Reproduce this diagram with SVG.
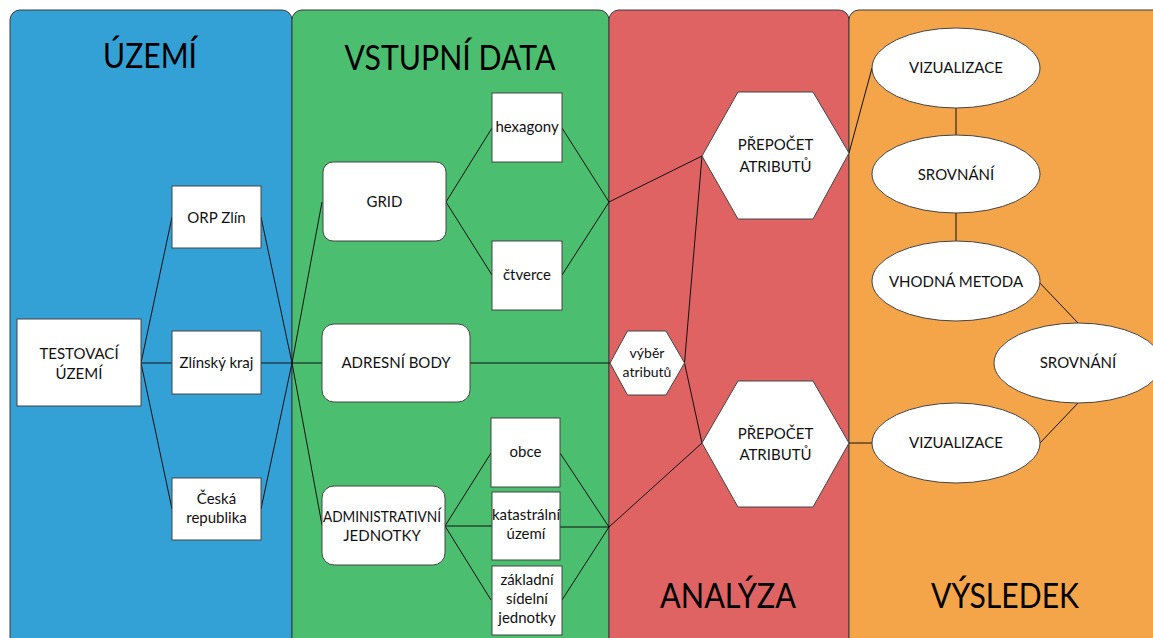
<svg xmlns="http://www.w3.org/2000/svg" width="1153" height="638" viewBox="0 0 1153 638">
<style>
.panel{stroke:#3a3a3a;stroke-width:1}
.box{fill:#fff;stroke:#444;stroke-width:1}
.t{font-family:Lato,"Liberation Sans",sans-serif;font-size:15px;fill:#111;text-anchor:middle}
.s{font-size:14px}
.title{font-family:Lato,"Liberation Sans",sans-serif;font-size:35px;fill:#000;text-anchor:middle}
.c{stroke:#111;stroke-width:1;fill:none}
</style>
<rect width="1153" height="638" fill="#fff"/>
<g id="panels">
<rect class="panel" x="10" y="10" width="282" height="700" rx="10" fill="#34a1d6"/>
<rect class="panel" x="292" y="10" width="317" height="700" rx="10" fill="#4bbf6f"/>
<rect class="panel" x="609" y="10" width="240" height="700" rx="10" fill="#df6363"/>
<rect class="panel" x="849" y="10" width="320" height="700" rx="10" fill="#f4a54a"/>
<text class="title" x="150" y="68" textLength="94" lengthAdjust="spacingAndGlyphs">ÚZEMÍ</text>
<text class="title" x="450" y="70" textLength="211" lengthAdjust="spacingAndGlyphs">VSTUPNÍ DATA</text>
<text class="title" x="728" y="608" textLength="136" lengthAdjust="spacingAndGlyphs">ANALÝZA</text>
<text class="title" x="1005" y="608" textLength="148" lengthAdjust="spacingAndGlyphs">VÝSLEDEK</text>
</g>
<g id="connectors" class="c">
<polyline points="172,217 141,363 172,509"/>
<line x1="141" y1="363" x2="172" y2="363"/>
<polyline points="261,217 292,363 261,509"/>
<line x1="261" y1="363" x2="322" y2="363"/>
<polyline points="322,202 292,363 322,525"/>
<polyline points="492,128 446,202 492,275"/>
<polyline points="562,128 609,202 562,275"/>
<line x1="609" y1="202" x2="702" y2="156"/>
<line x1="470" y1="363" x2="610" y2="363"/>
<polyline points="491,453 445,526 491,600"/>
<line x1="445" y1="526" x2="492" y2="526"/>
<polyline points="560,453 609,527 562,600"/>
<line x1="560" y1="527" x2="609" y2="527"/>
<line x1="609" y1="527" x2="702" y2="443"/>
<polyline points="702,156 684.5,363 702,443"/>
<line x1="849" y1="153" x2="872" y2="68"/>
<line x1="849" y1="443" x2="872" y2="443"/>
<line x1="956" y1="108" x2="956" y2="135"/>
<line x1="956" y1="213" x2="956" y2="242"/>
<line x1="1039" y1="282" x2="1078" y2="323"/>
<line x1="1078" y1="403" x2="1040" y2="443"/>
</g>
<g id="testovaci"><rect class="box" x="17" y="319" width="124" height="87"/><text class="t"><tspan x="79" y="359">TESTOVACÍ</tspan><tspan x="79" y="379">ÚZEMÍ</tspan></text></g>
<g id="orp"><rect class="box" x="172" y="186" width="89" height="62"/><text class="t" x="216.5" y="223">ORP Zlín</text></g>
<g id="kraj"><rect class="box" x="172" y="331" width="89" height="63"/><text class="t" x="216.5" y="368">Zlínský kraj</text></g>
<g id="cr"><rect class="box" x="172" y="478" width="89" height="62"/><text class="t"><tspan x="216.5" y="504">Česká</tspan><tspan x="216.5" y="523">republika</tspan></text></g>
<g id="grid"><rect class="box" x="323" y="162" width="123" height="79" rx="10"/><text class="t" x="384.5" y="207">GRID</text></g>
<g id="hexagony"><rect class="box" x="492" y="93" width="70" height="69"/><text class="t" x="527" y="132">hexagony</text></g>
<g id="ctverce"><rect class="box" x="492" y="241" width="70" height="69"/><text class="t" x="527" y="280">čtverce</text></g>
<g id="adresni"><rect class="box" x="322" y="324" width="148" height="78" rx="12"/><text class="t" x="396" y="368">ADRESNÍ BODY</text></g>
<g id="admin"><rect class="box" x="322" y="486" width="123" height="79" rx="12"/><text class="t"><tspan x="382" y="522" textLength="118" lengthAdjust="spacingAndGlyphs">ADMINISTRATIVNÍ</tspan><tspan x="382" y="541">JEDNOTKY</tspan></text></g>
<g id="obce"><rect class="box" x="491" y="418" width="69" height="69"/><text class="t" x="525.5" y="457">obce</text></g>
<g id="katastralni"><rect class="box" x="492" y="492" width="68" height="68"/><text class="t"><tspan x="526" y="520">katastrální</tspan><tspan x="526" y="539">území</tspan></text></g>
<g id="zsj"><rect class="box" x="492" y="566" width="70" height="69"/><text class="t"><tspan x="527" y="585">základní</tspan><tspan x="527" y="604">sídelní</tspan><tspan x="527" y="623">jednotky</tspan></text></g>
<g id="vyber"><polygon class="box" points="610,363 627.5,331 666,331 684.5,363 666,395 627.5,395"/><text class="t s"><tspan x="647" y="358">výběr</tspan><tspan x="647" y="377">atributů</tspan></text></g>
<g id="prepocet1"><polygon class="box" points="702,156 738,92 813,92 849,153 813,219 738,219"/><text class="t"><tspan x="775.5" y="150">PŘEPOČET</tspan><tspan x="775.5" y="172">ATRIBUTŮ</tspan></text></g>
<g id="prepocet2"><polygon class="box" points="702,443 738,381 813,381 849,443 813,507 738,507"/><text class="t"><tspan x="775.5" y="439">PŘEPOČET</tspan><tspan x="775.5" y="460">ATRIBUTŮ</tspan></text></g>
<g id="viz1"><ellipse class="box" cx="956" cy="68" rx="84" ry="40"/><text class="t" x="956" y="73">VIZUALIZACE</text></g>
<g id="srov1"><ellipse class="box" cx="956" cy="174" rx="84" ry="39"/><text class="t" x="956" y="180">SROVNÁNÍ</text></g>
<g id="vhodna"><ellipse class="box" cx="956" cy="281" rx="84" ry="40"/><text class="t" x="956" y="287">VHODNÁ METODA</text></g>
<g id="srov2"><ellipse class="box" cx="1078" cy="363" rx="84" ry="40"/><text class="t" x="1078" y="368">SROVNÁNÍ</text></g>
<g id="viz2"><ellipse class="box" cx="956" cy="443" rx="84" ry="40"/><text class="t" x="956" y="448">VIZUALIZACE</text></g>
</svg>
